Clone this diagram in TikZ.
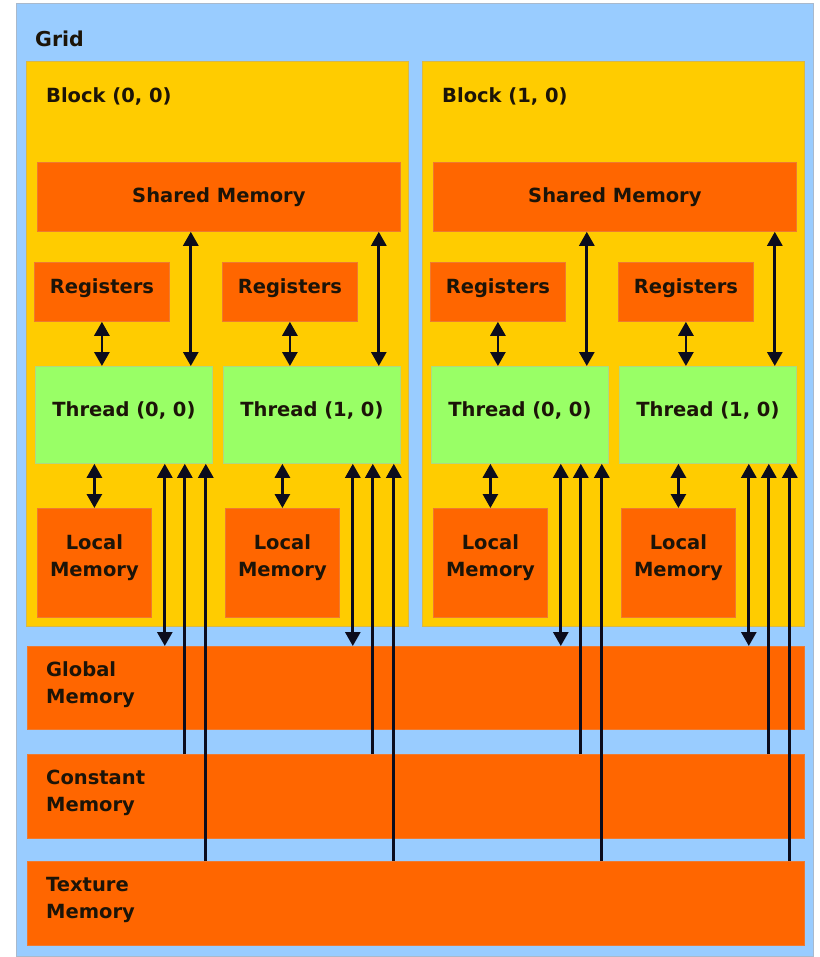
\documentclass[tikz,border=0pt]{standalone}
\usepackage{fontspec}
\setmainfont{DejaVu Sans}
\usetikzlibrary{arrows.meta}
\definecolor{gridblue}{HTML}{99CCFF}
\definecolor{gridedge}{HTML}{A9B9CC}
\definecolor{blockyel}{HTML}{FFCC00}
\definecolor{blockedge}{HTML}{D8B848}
\definecolor{memorange}{HTML}{FF6600}
\definecolor{memedge}{HTML}{EE7A30}
\definecolor{thgreen}{HTML}{99FF66}
\definecolor{thedge}{HTML}{B0D880}
\definecolor{txtcol}{HTML}{1C1408}
\definecolor{arrcol}{HTML}{0C0C1C}
\tikzset{
  gridbox/.style={draw=gridedge, line width=1pt, fill=gridblue, inner sep=0pt, anchor=north west},
  blkbox/.style={draw=blockedge, line width=1pt, fill=blockyel, inner sep=0pt, anchor=north west},
  membox/.style={draw=memedge, line width=0.8pt, fill=memorange, inner sep=0pt, anchor=north west, align=center, text=txtcol},
  thrbox/.style={draw=thedge, line width=0.8pt, fill=thgreen, inner sep=0pt, anchor=north west, text=txtcol},
  lbl/.style={inner sep=0pt, anchor=west, align=left, text=txtcol},
  darr/.style={draw=arrcol, line width=2.8pt, {Triangle[length=14pt,width=15pt]}-{Triangle[length=14pt,width=15pt]}},
  sarr/.style={draw=arrcol, line width=2.8pt, -{Triangle[length=14pt,width=15pt]}}
}
\begin{document}
\begin{tikzpicture}[x=1pt, y=-1pt, font=\fontsize{19.5}{27}\selectfont\bfseries]
\useasboundingbox (0,0) rectangle (819,957);
\node[gridbox, minimum width=797pt, minimum height=953pt] (grid) at (16,3) {};
\node[lbl, font=\fontsize{20.5}{27}\selectfont\bfseries] (gridl) at (35,39) {Grid};
\foreach \b in {0,1} {
  \begin{scope}[xshift=\b*396pt]
    \node[blkbox, minimum width=382pt, minimum height=565pt] (blk\b) at (26,61) {};
    \node[lbl] (blkl\b) at (46,96) {Block (\b, 0)};
    \node[membox, minimum width=363pt, minimum height=69pt] (sh\b) at (37,162) {Shared Memory};
    \foreach \j in {0,1} {
      \node[membox, minimum width=135pt, minimum height=59pt, text depth=12pt] (reg\b\j) at ({34+188*\j},262) {Registers};
      \node[thrbox, minimum width=177pt, minimum height=97pt, text depth=11pt] (th\b\j) at ({35+188*\j},366) {Thread (\j, 0)};
      \node[membox, minimum width=114pt, minimum height=109pt, text depth=14pt] (loc\b\j) at ({37+188*\j},508) {Local\\Memory};
    }
  \end{scope}
}
\node[membox, minimum width=777pt, minimum height=83pt] (glob) at (27,646) {};
\node[lbl] (globl) at (46,685) {Global\\Memory};
\node[membox, minimum width=777pt, minimum height=84pt] (const) at (27,754) {};
\node[lbl] (constl) at (46,793) {Constant\\Memory};
\node[membox, minimum width=777pt, minimum height=84pt] (tex) at (27,861) {};
\node[lbl] (texl) at (46,900) {Texture\\Memory};
\foreach \b in {0,1} {
  \foreach \j in {0,1} {
    \coordinate (s\b\j) at ([xshift=-22pt]th\b\j.north east);
    \coordinate (g\b\j) at ([xshift=-48pt]th\b\j.south east);
    \coordinate (c\b\j) at ([xshift=-28pt]th\b\j.south east);
    \coordinate (x\b\j) at ([xshift=-7pt]th\b\j.south east);
    \draw[darr] (reg\b\j.south) -- (reg\b\j.south |- th\b\j.north);
    \draw[darr] (loc\b\j.north) -- (loc\b\j.north |- th\b\j.south);
    \draw[darr] (s\b\j |- sh\b.south) -- (s\b\j);
    \draw[darr] (g\b\j) -- (g\b\j |- glob.north);
    \draw[sarr] (c\b\j |- const.north) -- (c\b\j);
    \draw[sarr] (x\b\j |- tex.north) -- (x\b\j);
  }
}
\end{tikzpicture}
\end{document}
